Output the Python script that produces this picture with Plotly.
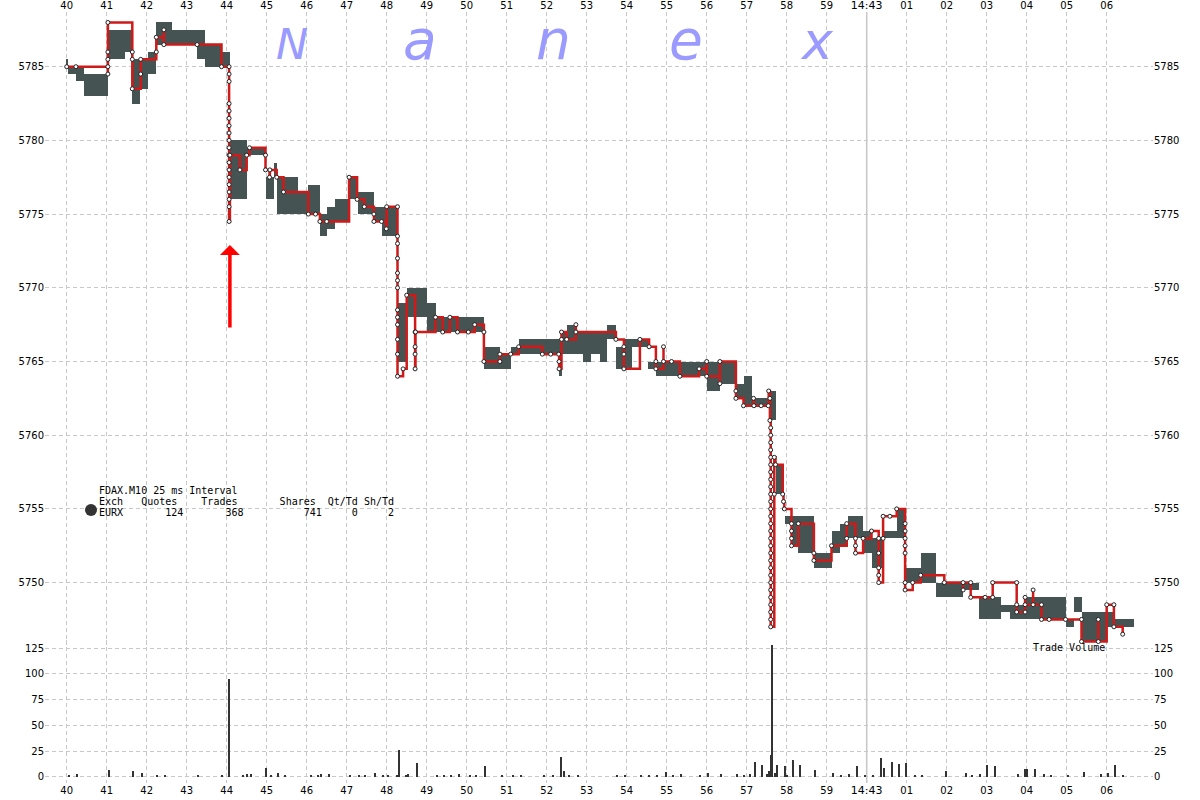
import plotly.graph_objects as go

# ---------------- data (time = seconds after 14:42:00) ----------------
# quote range blocks (grey)
band_start = [39.98, 40.03, 40.23, 40.42, 41.04, 41.46, 41.63, 41.83, 42.04, 42.23, 42.63, 43.26, 43.46, 43.87,
              44.08, 44.50, 44.97, 45.18, 45.25, 45.79, 46.04, 46.33, 46.50, 46.71, 47.06, 47.27, 47.68, 47.87,
              48.27, 48.50, 49.00, 49.23, 50.43, 50.83, 51.10, 51.30, 52.31, 52.38, 52.50, 52.73, 52.90, 53.10,
              53.33, 53.50, 53.73, 53.92, 54.13, 54.54, 54.73, 56.00, 56.33, 56.73, 56.94, 57.14, 57.55, 57.73,
              57.96, 58.12, 58.27, 58.68, 59.12, 59.33, 59.54, 59.91, 60.12, 60.41, 60.75, 60.96, 61.35, 61.72,
              62.41, 62.81, 63.35, 63.58, 63.96, 64.97, 65.18, 65.37, 66.00, 66.16]
band_end = [40.03, 40.23, 40.42, 41.04, 41.46, 41.63, 41.83, 42.04, 42.23, 42.63, 43.26, 43.46, 43.87, 44.08,
            44.50, 44.97, 45.18, 45.25, 45.79, 46.04, 46.33, 46.50, 46.71, 47.06, 47.27, 47.68, 47.87, 48.27,
            48.50, 49.00, 49.23, 50.43, 50.83, 51.10, 51.30, 52.31, 52.38, 52.50, 52.73, 52.90, 53.10, 53.33,
            53.50, 53.73, 53.92, 54.13, 54.54, 54.73, 56.00, 56.33, 56.73, 56.94, 57.14, 57.55, 57.73, 57.92,
            58.12, 58.27, 58.68, 59.12, 59.33, 59.54, 59.91, 60.12, 60.41, 60.75, 60.96, 61.35, 61.72, 62.41,
            62.81, 63.35, 63.58, 63.96, 64.97, 65.18, 65.37, 66.00, 66.16, 66.67]
band_low = [5785, 5784.5, 5784, 5783, 5785.5, 5786, 5782.5, 5783.5, 5784.5, 5786.5, 5786.5, 5785.5, 5785, 5785,
            5776, 5779, 5776, 5777.5, 5775, 5775, 5775, 5773.5, 5774, 5774.5, 5776, 5775, 5774.5, 5773.5,
            5765, 5768, 5767, 5767, 5764.5, 5764.5, 5765.5, 5765.5, 5764, 5765.5, 5765.5, 5765.5, 5765, 5765.5,
            5765, 5766.5, 5764.5, 5764.5, 5766, 5764.5, 5764, 5763, 5763.5, 5762.5, 5762, 5762, 5761, 5756,
            5754, 5752.5, 5752, 5751, 5752, 5752.5, 5753, 5752, 5751, 5753, 5753, 5750, 5750, 5749,
            5749.5, 5747.5, 5748, 5747.5, 5747.5, 5747, 5748, 5746, 5747, 5747]
band_high = [5785.5, 5785, 5785, 5784.5, 5787.5, 5787.5, 5785.5, 5785.5, 5786, 5788, 5787.5, 5787.5, 5786.5, 5786,
             5780, 5779.5, 5777.5, 5778.5, 5777.5, 5776.5, 5777, 5775, 5775.5, 5776, 5777.5, 5776.5, 5775.5, 5775.5,
             5769, 5770, 5769, 5768, 5766, 5765.5, 5766, 5766.5, 5766.5, 5767, 5767.5, 5767, 5767, 5767,
             5767, 5767.5, 5766, 5766.5, 5766.5, 5765, 5765, 5765, 5765, 5763.5, 5764, 5762.5, 5763, 5758,
             5754.5, 5754.5, 5754.5, 5752, 5753.5, 5754, 5754.5, 5753.5, 5753, 5753.5, 5755, 5751, 5752, 5750,
             5750, 5749, 5748.5, 5748.5, 5749, 5747.5, 5749, 5748, 5748, 5747.5]

# trades (red step line)
trade_t = [40.00, 40.23,
           41.03, 41.03, 41.03, 41.03, 41.03,
           41.64, 41.64, 41.64, 41.85, 41.85, 42.24, 42.24, 42.43, 42.43, 43.26, 43.87,
           44.06, 44.06, 44.06, 44.06, 44.06, 44.06, 44.06, 44.06, 44.06, 44.06, 44.06,
           44.06, 44.06, 44.06, 44.06, 44.06, 44.06, 44.06, 44.06,
           44.08, 44.33, 44.50, 44.57, 44.97, 44.97, 45.07, 45.08, 45.25, 45.42,
           46.04, 46.22, 46.33, 46.50, 47.06, 47.26, 47.44, 47.68, 47.68, 47.87, 47.99, 48.00,
           48.27, 48.27, 48.27, 48.27, 48.27, 48.27, 48.27, 48.27, 48.27, 48.27, 48.27, 48.27, 48.27,
           48.41, 48.50, 48.71, 48.71, 48.71, 48.71, 48.72,
           49.22, 49.40, 49.58, 49.77, 50.04, 50.20, 50.43, 50.43, 50.83, 50.83, 51.10, 51.30,
           51.89, 52.10, 52.30, 52.31, 52.31, 52.37, 52.37, 52.50, 52.73, 52.73,
           53.73, 53.93, 53.93, 53.93, 54.33, 54.56, 54.73, 54.73, 54.92, 54.92, 55.12, 55.33,
           55.81, 56.00, 56.00, 56.33, 56.33, 56.73, 56.73, 56.92, 57.17, 57.18, 57.36, 57.54,
           57.55, 57.58, 57.58,
           57.60, 57.60, 57.60, 57.60, 57.60, 57.60, 57.60, 57.60, 57.60, 57.60, 57.60, 57.60, 57.60, 57.60,
           57.60, 57.60, 57.60, 57.60, 57.60, 57.60, 57.60, 57.60, 57.60, 57.60, 57.60, 57.60, 57.60, 57.60,
           57.69, 57.69, 57.72, 57.90, 57.92, 57.94,
           58.12, 58.12, 58.12, 58.12, 58.29, 58.68, 58.68, 59.12, 59.50, 59.50,
           59.72, 59.72, 59.72, 59.91, 60.12, 60.30, 60.30, 60.30, 60.30, 60.30,
           60.41, 60.41, 60.58, 60.75, 60.96, 60.96, 60.96, 60.96, 60.96, 60.96, 60.96,
           61.15, 61.35, 61.94, 62.41, 62.41, 62.60, 62.60, 62.96, 63.15, 63.15,
           63.75, 63.75, 63.75, 63.96, 63.96, 63.96, 64.16, 64.16, 64.37, 64.37, 64.56, 64.97,
           65.37, 65.37, 65.79, 65.79, 66.00, 66.18, 66.18, 66.40]
trade_p = [5785, 5785,
           5784.5, 5785, 5785.5, 5786, 5788,
           5786, 5785.5, 5783.5, 5784.5, 5785.5, 5786, 5787, 5787.5, 5786.5, 5786.5, 5785,
           5785, 5784.5, 5784, 5782.5, 5782, 5781.5, 5781, 5780.5, 5780, 5779.5, 5779,
           5778.5, 5778, 5777.5, 5777, 5776.5, 5776, 5775.5, 5774.5,
           5779, 5778, 5779, 5779.5, 5779, 5778, 5777.5, 5778, 5777.5, 5776.5,
           5775, 5775, 5774.5, 5774.5, 5777.5, 5776, 5775.5, 5775, 5774.5, 5774.5, 5774, 5775.5,
           5775.5, 5773.5, 5773, 5772, 5771, 5770.5, 5770, 5768.5, 5768, 5767.5, 5766.5, 5765.5, 5764,
           5764.5, 5769.5, 5767, 5766, 5765.5, 5764.5, 5767,
           5768, 5767, 5768, 5767, 5767, 5767.5, 5767, 5765, 5765, 5765.5, 5765.5, 5766,
           5765.5, 5765.5, 5765.5, 5765, 5764.5, 5766.5, 5767, 5766.5, 5767.5, 5767,
           5766.5, 5766, 5765.5, 5764.5, 5766.5, 5766, 5765, 5764.5, 5766, 5765, 5765, 5764,
           5764.5, 5765, 5764, 5763.5, 5765, 5763, 5762.5, 5762, 5762.5, 5762, 5762, 5762,
           5763, 5762.5, 5761,
           5760.5, 5760, 5759.5, 5759, 5758.5, 5758, 5757.5, 5757, 5756.5, 5756, 5755.5, 5755, 5754.5, 5754,
           5753.5, 5753, 5752.5, 5752, 5751.5, 5751, 5750.5, 5750, 5749.5, 5749, 5748.5, 5748, 5747.5, 5747,
           5756, 5758.5, 5758, 5756, 5755.5, 5755,
           5754, 5753.5, 5753, 5752.5, 5754, 5752, 5751.5, 5752.5, 5753, 5754,
           5753, 5752.5, 5752, 5753, 5753.5, 5753, 5752, 5751, 5750.5, 5750,
           5753, 5754.5, 5754.5, 5755, 5754, 5753.5, 5753, 5752.5, 5752, 5750, 5749.5,
           5750, 5750.5, 5750, 5749.5, 5750, 5750, 5749, 5749, 5749, 5750,
           5750, 5748.5, 5748, 5748, 5749, 5748.5, 5749.5, 5748.5, 5748.5, 5747.5, 5747.5, 5747.5,
           5747.5, 5746, 5747.5, 5746, 5748.5, 5748.5, 5747, 5746.5]

# trade volume bars
vol_t = [40.05, 40.26, 41.05, 41.66, 41.89, 42.25, 42.46, 43.28, 43.88, 44.07, 44.40, 44.52, 44.62, 44.99,
         45.10, 45.29, 45.46, 46.10, 46.29, 46.37, 46.55, 47.08, 47.30, 47.46, 47.71, 47.92, 48.04, 48.26,
         48.32, 48.48, 48.54, 48.75, 49.26, 49.43, 49.62, 49.82, 50.08, 50.24, 50.47, 50.89, 51.15, 51.35,
         51.93, 52.16, 52.35, 52.43, 52.57, 52.78, 53.76, 53.97, 54.37, 54.57, 54.77, 54.98, 55.17, 55.36,
         55.84, 56.03, 56.37, 56.76, 56.94, 57.08, 57.21, 57.39, 57.52, 57.56, 57.62, 57.64, 57.71, 57.76,
         57.96, 58.00, 58.17, 58.33, 58.71, 59.17, 59.36, 59.56, 59.77, 59.96, 60.15, 60.35, 60.44, 60.63,
         60.80, 60.99, 61.20, 61.39, 61.99, 62.48, 62.64, 62.83, 63.00, 63.20, 63.79, 63.96, 64.01, 64.22,
         64.43, 64.62, 65.03, 65.44, 65.85, 66.04, 66.21, 66.42]
vol_v = [1, 3, 6.5, 5.5, 4, 2, 2, 1, 1, 95, 1, 3, 3, 8.5,
         2, 3.5, 1, 1, 2, 3, 3, 2, 1, 1, 3.5, 1, 2, 2,
         26, 2, 3, 13.5, 1, 2, 1, 3, 2, 1, 10.5, 2, 1, 1,
         1, 2, 19, 5.5, 2, 2, 2, 2, 1.5, 1, 2, 4.5, 1, 3,
         1, 3.5, 3, 3, 2, 3, 14, 11, 3, 5.5, 21, 128, 3.5, 11.5,
         10.5, 1, 16, 11, 6.5, 3.5, 1.5, 2.5, 10, 1, 1.5, 18, 8.5, 14,
         12.5, 13.5, 1, 1, 5.5, 3.5, 2, 2.5, 11, 10, 2.5, 7.5, 7.5, 7.5,
         3, 1.5, 1.5, 5, 2.5, 3.5, 11, 1]

sec_ticks = [40, 41, 42, 43, 44, 45, 46, 47, 48, 49, 50, 51, 52, 53, 54, 55, 56, 57, 58, 59,
             60, 61, 62, 63, 64, 65, 66]
sec_labels = ["40", "41", "42", "43", "44", "45", "46", "47", "48", "49", "50", "51", "52", "53",
              "54", "55", "56", "57", "58", "59", "<span style='font-size:11px'>14:43</span>",
              "01", "02", "03", "04", "05", "06"]
price_ticks = [5750, 5755, 5760, 5765, 5770, 5775, 5780, 5785]
vol_ticks = [0, 25, 50, 75, 100, 125]
minute_mark = 60

info_title = "FDAX.M10 25 ms Interval"
info_header = "Exch   Quotes    Trades       Shares  Qt/Td Sh/Td"
info_row = "EURX       124       368          741     0     2"
watermark = ["N", "a", "n", "e", "x"]

# ---------------- layout geometry (pixels) ----------------
W, H = 1200, 800
ML, MR, MT, MB = 45, 47, 12, 17
PW, PH = W - ML - MR, H - MT - MB


def px(xp):
    return (xp - ML) / PW


def py(yp):
    return (H - MB - yp) / PH


GRID = "#c8c8c8"
DASH = "4px,3px"
TXT = dict(family="DejaVu Sans", size=10, color="#000000")
MONO = dict(family="DejaVu Sans Mono", size=10, color="#000000")

fig = go.Figure()

# grey quote blocks
fig.add_trace(go.Bar(
    x=[(a + b) / 2 for a, b in zip(band_start, band_end)],
    y=[h - l for l, h in zip(band_low, band_high)],
    base=band_low,
    width=[b - a for a, b in zip(band_start, band_end)],
    marker=dict(color="#465353", line=dict(width=0)),
    xaxis="x2", yaxis="y2", showlegend=False, hoverinfo="skip"))

# trades
fig.add_trace(go.Scatter(
    x=trade_t, y=trade_p, mode="lines+markers",
    line=dict(color="#d01a1a", width=2.5, shape="hv"),
    marker=dict(size=4, color="white", line=dict(color="#222222", width=1)),
    xaxis="x2", yaxis="y2", showlegend=False, hoverinfo="skip"))

# volume
fig.add_trace(go.Bar(
    x=vol_t, y=vol_v, width=0.03,
    marker=dict(color="#333333", line=dict(width=0)),
    xaxis="x", yaxis="y", showlegend=False, hoverinfo="skip"))

# helpers so that the right-hand axes are drawn
fig.add_trace(go.Scatter(x=[None], y=[None], xaxis="x", yaxis="y3", showlegend=False, hoverinfo="skip"))
fig.add_trace(go.Scatter(x=[None], y=[None], xaxis="x2", yaxis="y4", showlegend=False, hoverinfo="skip"))

x_range = [40 + (ML - 66.7) / 40, 40 + (W - MR - 66.7) / 40]
p_per_px = 1 / 14.74
price_range = [5750 - (645 - 582.6) * p_per_px, 5785 + (66.7 - MT) * p_per_px]
vol_range = [-(H - MB - 776.7) / 1.0272, 125 + (648.3 - 640) / 1.0272]
p_dom = [py(645), 1]
v_dom = [0, py(640)]

xcommon = dict(range=x_range, tickvals=sec_ticks, ticktext=sec_labels, showgrid=True,
               gridcolor=GRID, griddash=DASH, gridwidth=1, zeroline=False, showline=False,
               ticks="", tickfont=TXT, automargin=False, fixedrange=True)
ycommon = dict(showline=False, zeroline=False, ticks="", tickfont=TXT, automargin=False, fixedrange=True)

fig.update_layout(
    width=W, height=H, template="none",
    paper_bgcolor="white", plot_bgcolor="rgba(0,0,0,0)",
    margin=dict(l=ML, r=MR, t=MT, b=MB, pad=0),
    barmode="overlay", bargap=0, showlegend=False,
    xaxis=dict(domain=[0, 1], anchor="y", side="bottom", **xcommon),
    xaxis2=dict(domain=[0, 1], anchor="y2", side="top", matches="x", **xcommon),
    yaxis=dict(domain=v_dom, anchor="x", range=vol_range, tickvals=vol_ticks, showgrid=True,
               gridcolor=GRID, griddash=DASH, side="left", **ycommon),
    yaxis3=dict(overlaying="y", anchor="x", side="right", range=vol_range, tickvals=vol_ticks,
                showgrid=False, **ycommon),
    yaxis2=dict(domain=p_dom, anchor="x2", range=price_range, tickvals=price_ticks, showgrid=True,
                gridcolor=GRID, griddash=DASH, side="left", **ycommon),
    yaxis4=dict(overlaying="y2", anchor="x2", side="right", range=price_range, tickvals=price_ticks,
                showgrid=False, **ycommon),
)

# solid line at the minute boundary
fig.add_shape(type="line", xref="x2", yref="paper", x0=minute_mark, x1=minute_mark, y0=0, y1=1,
              line=dict(color="#c4c4c4", width=1.5), layer="below")

# watermark
wm_x = [292, 420, 553, 686, 817]
wm_size = [43, 55, 55, 55, 52]
for ch, xx, fs in zip(watermark, wm_x, wm_size):
    fig.add_annotation(text="<i>" + ch + "</i>", xref="paper", yref="paper", x=px(xx), y=py(61),
                       xanchor="center", yanchor="bottom", showarrow=False, yshift=-fs * 0.24,
                       font=dict(family="DejaVu Sans", size=fs, color="#9a9aff"))

# info box
for txt, yy in [(info_title, 490), (info_header, 501), (info_row, 512)]:
    fig.add_annotation(text=txt.replace(" ", "\u00a0"), xref="paper", yref="paper",
                       x=px(97), y=py(yy), xanchor="left", yanchor="middle", showarrow=False,
                       font=MONO)
fig.add_shape(type="circle", xref="paper", yref="paper",
              x0=px(85), x1=px(97), y0=py(516), y1=py(504),
              fillcolor="#333333", line=dict(color="#333333", width=0))

fig.add_annotation(text="Trade\u00a0Volume", xref="paper", yref="paper", x=px(1031), y=py(647),
                   xanchor="left", yanchor="middle", showarrow=False, font=MONO)

# red arrow
fig.add_annotation(x=44.08, y=5785 - (245 - 66.7) * p_per_px, xref="x2", yref="y2", text="",
                   showarrow=True, ax=0, ay=84, axref="pixel", ayref="pixel",
                   arrowhead=1, arrowsize=0.95, arrowwidth=3.5, arrowcolor="#ff0000")

fig.write_html("out.html", config={"displayModeBar": False},
               post_script="document.body.style.margin='0px';")
